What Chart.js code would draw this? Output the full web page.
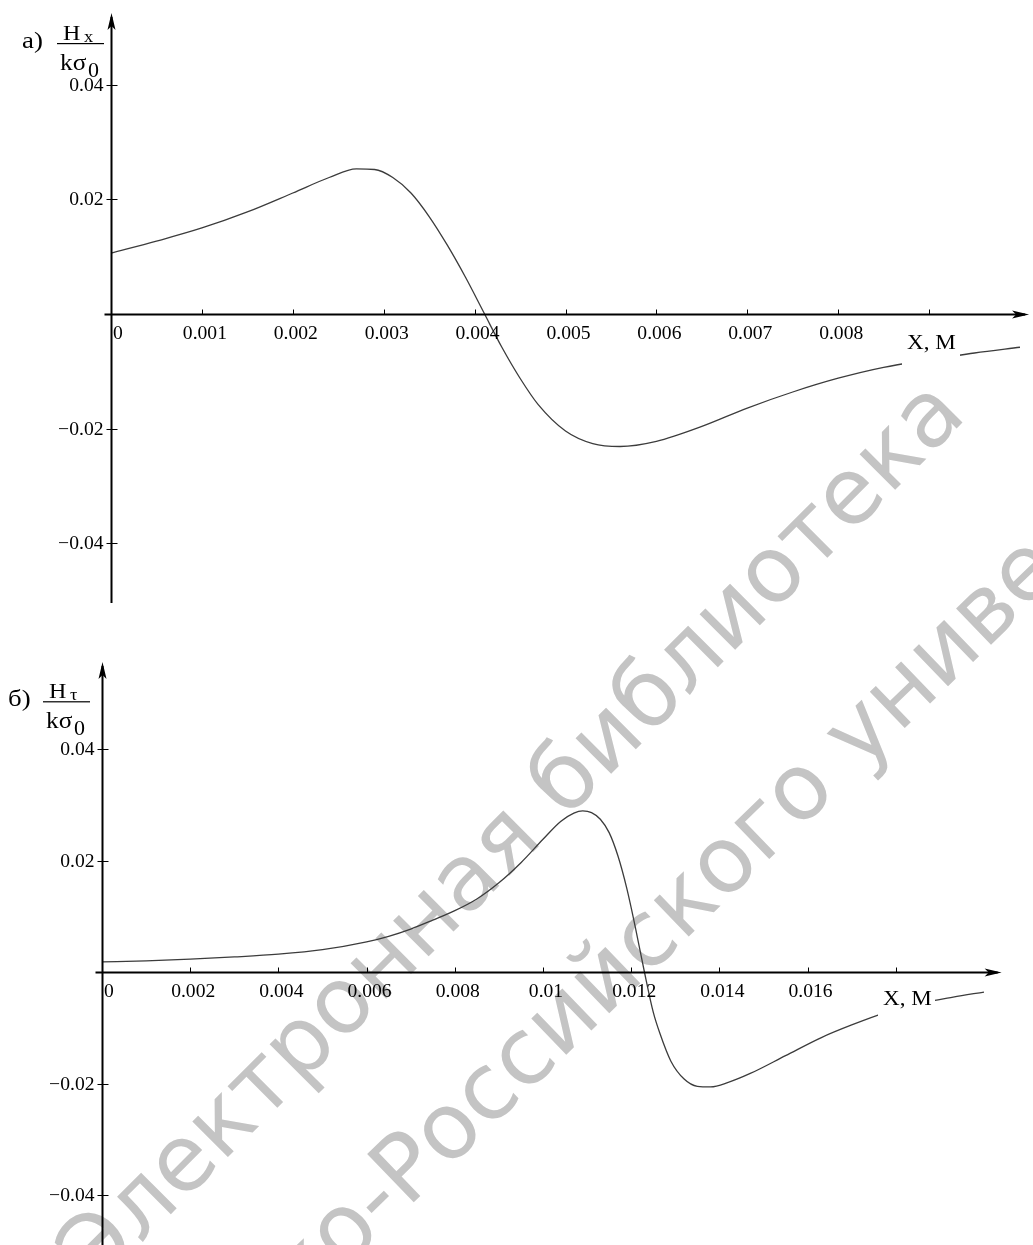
<!DOCTYPE html>
<html>
<head>
<meta charset="utf-8">
<script src="https://cdn.jsdelivr.net/npm/chart.js@4.4.0/dist/chart.umd.min.js"></script>
<style>
  body { margin: 0; background: #fff; }
  #page { position: relative; width: 1033px; height: 1245px; overflow: hidden; }
  canvas { position: absolute; left: 0; }
  #mark { top: 0; }
  #chartA { top: 0; }
  #chartB { top: 620px; }
</style>
</head>
<body>
<div id="page">
  <canvas id="mark" width="1033" height="1245"></canvas>
  <canvas id="chartA" width="1033" height="620"></canvas>
  <canvas id="chartB" width="1033" height="625"></canvas>
</div>
<script>
// а) Hx / kσ0 against x, m
const xA = [0, 0.0005, 0.001, 0.0015, 0.002, 0.0024, 0.0027, 0.0029, 0.0031, 0.0033,
  0.0035, 0.0037, 0.0039, 0.0041, 0.0043, 0.0045, 0.0047, 0.005, 0.0053, 0.0056,
  0.006, 0.0065, 0.007, 0.0075, 0.008, 0.0085, 0.009, 0.0095, 0.01];
const hxA = [0.0106, 0.0127, 0.0150, 0.0178, 0.0211, 0.0238, 0.0253, 0.0252, 0.0238, 0.0211,
  0.0170, 0.0120, 0.0064, 0.0003, -0.0058, -0.0112, -0.0158, -0.0204, -0.0226, -0.0231,
  -0.0222, -0.0196, -0.0164, -0.0136, -0.0112, -0.0093, -0.0080, -0.0068, -0.0058];

// б) Hτ / kσ0 against x, m
const xB = [0, 0.001, 0.002, 0.003, 0.004, 0.005, 0.006, 0.0065, 0.007, 0.0075,
  0.008, 0.0085, 0.009, 0.0095, 0.01, 0.0104, 0.0107, 0.0109, 0.0111, 0.0113,
  0.0115, 0.0117, 0.0119, 0.0121, 0.0123, 0.0125, 0.01265, 0.0129, 0.0132, 0.0135,
  0.0138, 0.0142, 0.0147, 0.0155, 0.0163, 0.017, 0.0178, 0.0185, 0.0193, 0.02];
const htB = [0.0018, 0.0020, 0.0023, 0.0027, 0.0032, 0.0040, 0.0054, 0.0064, 0.0077, 0.0093,
  0.0110, 0.0131, 0.0160, 0.0196, 0.0238, 0.0270, 0.0285, 0.0289, 0.0286, 0.0274,
  0.0250, 0.0208, 0.0150, 0.0078, 0.0000, -0.0072, -0.0110, -0.0160, -0.0192, -0.0205,
  -0.0206, -0.0198, -0.0182, -0.0150, -0.0118, -0.0095, -0.0072, -0.0057, -0.0045, -0.0036];

const xTicksA = [0, 0.001, 0.002, 0.003, 0.004, 0.005, 0.006, 0.007, 0.008, 0.009];
const xTickLabelsA = ['0', '0.001', '0.002', '0.003', '0.004', '0.005', '0.006', '0.007', '0.008', ''];
const xTicksB = [0, 0.002, 0.004, 0.006, 0.008, 0.01, 0.012, 0.014, 0.016, 0.018];
const xTickLabelsB = ['0', '0.002', '0.004', '0.006', '0.008', '0.01', '0.012', '0.014', '0.016', ''];
const yTicks = [-0.04, -0.02, 0, 0.02, 0.04];
const yTickLabels = ['\u22120.04', '\u22120.02', '', '0.02', '0.04'];

const SERIF = "'Liberation Serif', 'Times New Roman', serif";

// text is drawn a little wider than the font's natural width
function text(ctx, s, x, y, font, align, stretch) {
  ctx.save();
  ctx.font = font;
  ctx.textAlign = align || 'left';
  ctx.textBaseline = 'alphabetic';
  ctx.translate(x, y);
  ctx.scale(stretch || 1.06, 1);
  ctx.fillText(s, 0, 0);
  ctx.restore();
}

function arrow(ctx, x, y, dir) {
  ctx.beginPath();
  if (dir === 'up') {
    ctx.moveTo(x, y);
    ctx.lineTo(x - 4, y + 17);
    ctx.lineTo(x, y + 13);
    ctx.lineTo(x + 4, y + 17);
  } else {
    ctx.moveTo(x, y);
    ctx.lineTo(x - 17, y - 4);
    ctx.lineTo(x - 13, y);
    ctx.lineTo(x - 17, y + 4);
  }
  ctx.closePath();
  ctx.fill();
}

// crossed axes through the origin, Mathcad style
const crossAxes = {
  id: 'crossAxes',
  afterDatasetsDraw(chart, args, o) {
    const ctx = chart.ctx;
    const sx = chart.scales.x, sy = chart.scales.y;
    const area = chart.chartArea;
    const x0 = Math.round(sx.getPixelForValue(0)) + 0.5;
    const y0 = Math.round(sy.getPixelForValue(0)) + 0.5;
    ctx.save();
    ctx.fillStyle = '#000';
    ctx.strokeStyle = '#000';

    // axis name sits on a white box that hides the curve under it
    ctx.fillStyle = '#fff';
    ctx.fillRect(o.nameBox[0], o.nameBox[1], o.nameBox[2], o.nameBox[3]);
    ctx.fillStyle = '#000';
    text(ctx, 'X, \u041c', o.namePos[0], o.namePos[1], '21px ' + SERIF, 'left', 1.1);

    // axes
    ctx.lineWidth = 2;
    ctx.beginPath();
    ctx.moveTo(x0 - 7, y0);
    ctx.lineTo(sx.getPixelForValue(o.xEnd) - 4, y0);
    ctx.moveTo(x0, area.top + 4);
    ctx.lineTo(x0, o.yBottom);
    ctx.stroke();
    arrow(ctx, sx.getPixelForValue(o.xEnd), y0, 'right');
    arrow(ctx, x0, area.top, 'up');

    // ticks and labels
    ctx.lineWidth = 1;
    ctx.beginPath();
    o.xTicks.forEach(v => {
      const p = Math.round(sx.getPixelForValue(v)) + 0.5;
      ctx.moveTo(p, y0 - 5);
      ctx.lineTo(p, y0);
    });
    o.yTicks.forEach(v => {
      const p = Math.round(sy.getPixelForValue(v)) + 0.5;
      ctx.moveTo(x0 - 5, p);
      ctx.lineTo(x0 + 6, p);
    });
    ctx.stroke();

    const tickFont = '18.5px ' + SERIF;
    o.xTicks.forEach((v, i) => {
      const p = sx.getPixelForValue(v);
      if (v === 0) text(ctx, o.xLabels[i], p + 2, y0 + 24, tickFont, 'left');
      else text(ctx, o.xLabels[i], p + 3, y0 + 24, tickFont, 'center');
    });
    o.yTicks.forEach((v, i) => {
      const p = sy.getPixelForValue(v);
      text(ctx, o.yLabels[i], x0 - 8, p + 6, tickFont, 'right');
    });

    // panel letter and the quantity H / kσ0
    const fx = o.frac[0], fy = o.frac[1];
    text(ctx, o.letter, fx - 35, fy + 4, '24px ' + SERIF, 'left', 1.12);
    text(ctx, 'H', fx + 6, fy - 3.5, '20px ' + SERIF, 'left', 1.2);
    text(ctx, o.sub, fx + 27, fy - 1.5, '16px ' + SERIF, 'left', 1.15);
    ctx.fillRect(fx, fy - 0.5, 47, 1.2);
    text(ctx, 'k\u03c3', fx + 3, fy + 26.5, '23px ' + SERIF, 'left', 1.1);
    text(ctx, '0', fx + 31, fy + 33, '20px ' + SERIF, 'left', 1.1);
    ctx.restore();
  }
};

function makeChart(id, xs, ys, m, axes) {
  const pts = xs.map((x, i) => ({ x: x, y: ys[i] }));
  const h = document.getElementById(id).height;
  const padding = {
    left: m.x0 - m.xMin * m.kx,
    right: 1033 - (m.x0 + m.xMax * m.kx),
    top: m.y0 - m.yMax * m.ky,
    bottom: h - (m.y0 - m.yMin * m.ky)
  };
  return new Chart(document.getElementById(id), {
    type: 'line',
    data: {
      datasets: [{
        data: pts,
        borderColor: '#3c3c3c',
        borderWidth: 1.3,
        pointRadius: 0,
        cubicInterpolationMode: 'monotone',
        fill: false
      }]
    },
    options: {
      responsive: false,
      animation: false,
      events: [],
      layout: { padding: padding },
      plugins: {
        legend: { display: false },
        tooltip: { enabled: false },
        crossAxes: axes
      },
      scales: {
        x: { type: 'linear', display: false, min: m.xMin, max: m.xMax },
        y: { type: 'linear', display: false, min: m.yMin, max: m.yMax }
      }
    },
    plugins: [crossAxes]
  });
}

makeChart('chartA', xA, hxA,
  { x0: 111, y0: 314, kx: 90900, ky: 5735, xMin: 0, xMax: 0.0101, yMin: -0.0505, yMax: 0.0525 },
  {
    xTicks: xTicksA, xLabels: xTickLabelsA, yTicks: yTicks, yLabels: yTickLabels,
    xEnd: 0.0101, yBottom: 603,
    nameBox: [902, 321, 58, 46], namePos: [907, 349],
    letter: '\u0430)', sub: 'x', frac: [57, 43.5]
  });

makeChart('chartB', xB, htB,
  { x0: 102, y0: 352, kx: 44100, ky: 5575, xMin: 0, xMax: 0.0211, yMin: -0.0489, yMax: 0.0556 },
  {
    xTicks: xTicksB, xLabels: xTickLabelsB, yTicks: yTicks, yLabels: yTickLabels,
    xEnd: 0.0204, yBottom: 625,
    nameBox: [878, 360, 57, 45], namePos: [883, 385],
    letter: '\u0431)', sub: '\u03c4', frac: [43, 81.7]
  });

// library watermark behind both panels
(function () {
  const ctx = document.getElementById('mark').getContext('2d');
  ctx.fillStyle = '#c4c4c4';
  ctx.font = "92px 'DejaVu Sans'";
  ctx.textBaseline = 'alphabetic';
  const lines = [
    ['\u042d\u043b\u0435\u043a\u0442\u0440\u043e\u043d\u043d\u0430\u044f \u0431\u0438\u0431\u043b\u0438\u043e\u0442\u0435\u043a\u0430', 95, 1290, -45],
    ['\u0411\u0435\u043b\u043e\u0440\u0443\u0441\u0441\u043a\u043e-\u0420\u043e\u0441\u0441\u0438\u0439\u0441\u043a\u043e\u0433\u043e \u0443\u043d\u0438\u0432\u0435\u0440\u0441\u0438\u0442\u0435\u0442\u0430', -20, 1621, -44]
  ];
  lines.forEach(l => {
    ctx.save();
    ctx.translate(l[1], l[2]);
    ctx.rotate(l[3] * Math.PI / 180);
    ctx.fillText(l[0], 0, 0);
    ctx.restore();
  });
})();
</script>
</body>
</html>
